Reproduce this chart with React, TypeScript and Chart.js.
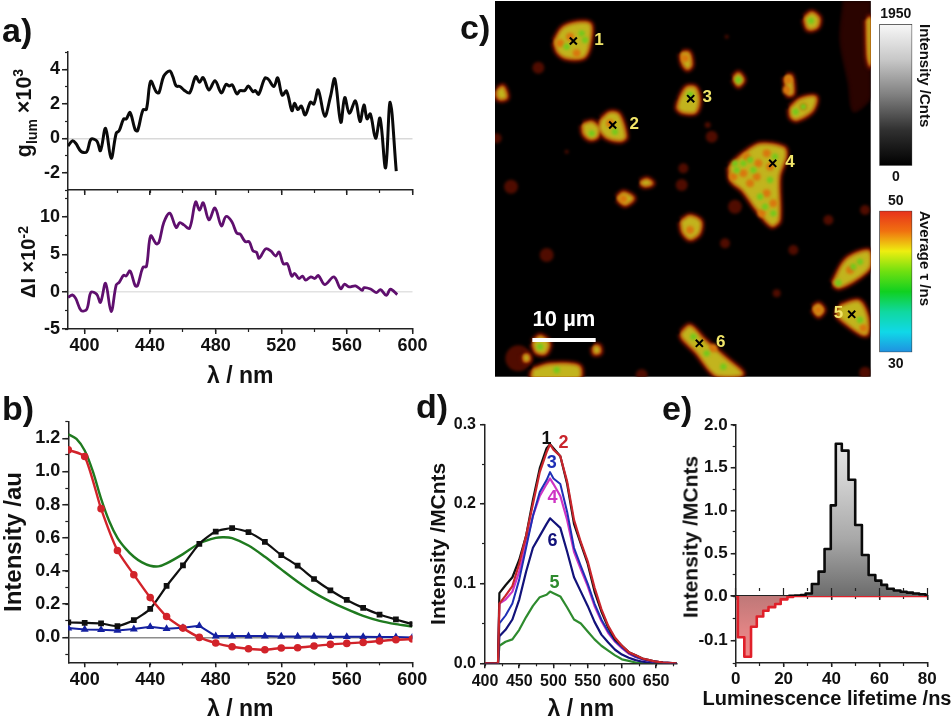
import { useEffect, useRef } from "react";
import { Chart, registerables } from "chart.js";

Chart.register(...registerables);

const FONT = "'Liberation Sans', Arial, sans-serif";
const AXIS = "#222222";
const PAGE_W = 952;
const PAGE_H = 722;
// the map canvases start above the page so bubble overflow cannot push the plot down
const MAP_LIFT = 20;

// panel a) upper trace
const glumNm = [390, 392.7, 394.7, 398, 401.4, 404, 407.5, 409.8, 412.9, 416.3, 419.4, 421.2, 423.9, 425.5, 427.8, 431, 432.4, 435.7, 437.8, 440.4, 443.9, 445.5, 448.4, 452, 453.9, 455.9, 458.2, 460.6, 464.1, 467.8, 470.2, 472.4, 475.9, 479.6, 483.5, 486.3, 488.2, 490.2, 492.9, 494.9, 497.7, 499.9, 502.8, 504.2, 506.2, 510, 512.1, 515.5, 517.8, 520.6, 523.2, 526.5, 528.1, 530.1, 532.2, 534.6, 537.8, 539.9, 542.5, 546.5, 550, 552.6, 556.3, 558.7, 561.5, 565.2, 568, 570.4, 572.3, 574.3, 577.5, 580.2, 583.6, 586.4, 590.1];
const glumVal = [-0.45, -0.15, -0.29, -0.77, -0.79, -0.06, -0.15, -0.72, 0.58, -1.16, 0.29, 0.44, 1.12, 1.12, 1.49, 0.48, 0.43, 1.64, 1.68, 3.3, 2.67, 2.65, 3.61, 3.9, 3.57, 3.03, 3.0, 2.8, 2.63, 3.57, 3.25, 3.52, 2.8, 3.34, 2.63, 3.13, 3.03, 3.09, 2.57, 2.76, 2.76, 3.03, 2.7, 2.76, 2.55, 3.48, 3.42, 3.0, 3.5, 2.5, 2.74, 1.6, 2.03, 1.66, 1.87, 1.35, 2.09, 1.99, 2.8, 1.28, 2.42, 3.44, 0.93, 2.36, 1.45, 2.16, 0.97, 1.93, 1.12, 1.41, 0, 1.16, -1.72, 2.09, -1.9];
const glumTicks = [-2, 0, 2, 4];

// panel a) lower trace
const deltaNm = [390, 392.7, 394.7, 398, 401.4, 404, 407.5, 409.8, 412.9, 416.3, 419.4, 421.2, 423.9, 425.5, 427.8, 431, 432.4, 435.7, 437.8, 440.4, 443.9, 445.5, 448.4, 452, 455.9, 458.2, 460.6, 464.1, 467.8, 470.2, 472.4, 475.9, 479.6, 483.5, 486.3, 489.8, 492.9, 494.9, 498, 500.4, 502.8, 504.9, 506.5, 510.5, 513.6, 516.6, 518.7, 521.3, 523.7, 526.4, 528.2, 530.8, 532.9, 534.9, 538, 540.4, 542.6, 546.5, 552.1, 556.2, 558.6, 561.3, 565.3, 569.4, 570.4, 574.4, 577.9, 580.5, 584, 586.6, 590.7];
const deltaVal = [-0.76, -0.45, -0.9, -2.54, -2.37, -0.09, -0.36, -1.43, 1.12, -2.68, 0.9, 1.25, 2.19, 2.1, 2.77, 0.76, 0.8, 3.26, 3.35, 7.46, 6.38, 6.65, 9.24, 10.5, 8.6, 9.24, 8.93, 8.48, 12, 10.9, 11.9, 9.6, 11.2, 8.8, 10.05, 9.38, 7.8, 7.7, 6.7, 6.7, 5.45, 5.27, 4.46, 5.72, 5.45, 4.77, 5.3, 3.7, 3.74, 2.07, 2.43, 1.76, 2.07, 1.53, 1.98, 1.76, 2.16, 0.95, 1.98, 0.4, 1.0, 0.63, 0.77, 0.18, 0.54, 0.36, -0.14, 0.27, -0.5, 0.32, -0.4];

// panel b)
const absNm = [390, 400, 410, 420, 430, 440, 450, 460, 470, 480, 490, 500, 510, 520, 530, 540, 550, 560, 570, 580, 590, 600];
const absBlack = [0.09, 0.088, 0.084, 0.068, 0.104, 0.172, 0.31, 0.434, 0.564, 0.638, 0.658, 0.634, 0.576, 0.496, 0.432, 0.352, 0.284, 0.226, 0.178, 0.138, 0.108, 0.08];
const absRed = [1.13, 1.09, 0.776, 0.524, 0.378, 0.24, 0.126, 0.056, 0, -0.034, -0.056, -0.068, -0.074, -0.064, -0.062, -0.052, -0.042, -0.036, -0.03, -0.022, -0.014, -0.01];
const absBlue = [0.056, 0.048, 0.046, 0.042, 0.05, 0.064, 0.052, 0.058, 0.07, 0.008, 0.008, 0.008, 0.008, 0.006, 0.006, 0.006, 0.004, 0.004, 0.004, 0.002, 0.002, 0];
const greenNm = [390, 395, 400, 405, 410, 415, 420, 425, 430, 435, 440, 445, 450, 460, 470, 480, 485, 490, 500, 510, 520, 530, 540, 550, 560, 570, 580, 590, 600];
const greenVal = [1.224, 1.196, 1.126, 1.0, 0.836, 0.7, 0.6, 0.535, 0.486, 0.452, 0.432, 0.428, 0.446, 0.502, 0.566, 0.6, 0.604, 0.598, 0.554, 0.486, 0.41, 0.336, 0.27, 0.216, 0.17, 0.13, 0.1, 0.08, 0.066];

// panel d)
const pointNm = [400, 419, 421, 430, 440, 450, 460, 470, 480, 490, 495, 500, 510, 520, 530, 540, 550, 560, 570, 580, 590, 600, 610, 620, 630, 640, 650, 660, 680];
const spot1 = [0, 0, 0.088, 0.098, 0.108, 0.13, 0.16, 0.205, 0.245, 0.27, 0.275, 0.27, 0.26, 0.225, 0.175, 0.15, 0.125, 0.09, 0.065, 0.045, 0.03, 0.022, 0.014, 0.01, 0.006, 0.004, 0.002, 0.001, 0];
const spot2 = [0, 0, 0.075, 0.085, 0.097, 0.125, 0.16, 0.2, 0.24, 0.265, 0.275, 0.268, 0.26, 0.228, 0.18, 0.152, 0.128, 0.095, 0.068, 0.047, 0.032, 0.022, 0.014, 0.01, 0.006, 0.004, 0.002, 0.001, 0];
const spot3 = [0, 0, 0.05, 0.06, 0.075, 0.105, 0.145, 0.185, 0.215, 0.23, 0.24, 0.232, 0.225, 0.19, 0.145, 0.122, 0.1, 0.075, 0.055, 0.04, 0.028, 0.02, 0.013, 0.008, 0.005, 0.003, 0.002, 0.001, 0];
const spot4 = [0, 0, 0.075, 0.08, 0.09, 0.115, 0.15, 0.185, 0.21, 0.225, 0.232, 0.225, 0.21, 0.18, 0.14, 0.118, 0.097, 0.072, 0.053, 0.038, 0.027, 0.019, 0.012, 0.008, 0.005, 0.003, 0.002, 0.001, 0];
const spot5 = [0, 0, 0.022, 0.027, 0.03, 0.042, 0.058, 0.072, 0.083, 0.086, 0.09, 0.088, 0.084, 0.07, 0.055, 0.05, 0.04, 0.03, 0.022, 0.016, 0.01, 0.005, 0.003, 0.001, 0, 0, 0, 0, 0];
const spot6 = [0, 0, 0.034, 0.042, 0.055, 0.08, 0.115, 0.145, 0.16, 0.175, 0.182, 0.178, 0.17, 0.14, 0.108, 0.09, 0.072, 0.052, 0.036, 0.026, 0.017, 0.011, 0.007, 0.004, 0.002, 0.001, 0, 0, 0];
const spotLabels = ["1", "2", "3", "4", "5", "6"];
const spotLabelNm = [490, 514.6, 497.6, 498.5, 501.5, 498.5];
const spotLabelVal = [0.282, 0.277, 0.251, 0.207, 0.101, 0.154];
const spotColors = ["#111111", "#c9252c", "#1f2fb5", "#cf35c4", "#2e8b2e", "#12127a"];

// panel e) histograms: bin edge and height of the bin that starts there
const posEdges = [22, 24.6, 27.2, 29.2, 31.8, 34.6, 37.1, 39.7, 41.8, 44.3, 47.1, 49.9, 52.7, 55.5, 58.3, 60.8, 63.2, 66, 68.8, 71.4, 74, 76.6, 79.2, 80];
const posCounts = [0.002, 0.005, 0.01, 0.03, 0.14, 0.285, 0.55, 1.06, 1.78, 1.7, 1.36, 0.83, 0.48, 0.245, 0.18, 0.13, 0.085, 0.065, 0.05, 0.04, 0.03, 0.02, 0.012, 0.005];
const negEdges = [0, 0.9, 3.6, 6.4, 8.8, 11.5, 13.7, 16.5, 18.8, 21.6, 24, 80];
const negCounts = [0, -0.0925, -0.136, -0.069, -0.046, -0.033, -0.025, -0.018, -0.0075, -0.002, 0, 0];

// panel c) map, in map pixels
const particle1 = [[315, 125], [340, 85], [385, 70], [420, 75], [415, 140], [400, 170], [350, 172], [325, 155]];
const particle2a = [[400, 375], [425, 368], [445, 385], [440, 410], [420, 415], [403, 400]];
const particle2b = [[455, 360], [480, 340], [505, 345], [525, 410], [510, 420], [470, 410], [450, 385]];
const particle3 = [[690, 300], [710, 265], [735, 265], [745, 300], [735, 335], [700, 335], [685, 325]];
const particle4 = [[840, 500], [880, 465], [930, 435], [1000, 445], [1005, 470], [985, 530], [985, 660], [965, 675], [920, 625], [880, 570], [845, 540]];
const particle5 = [[1170, 920], [1225, 905], [1250, 950], [1250, 1000], [1235, 1000], [1185, 965], [1165, 945]];
const particle6 = [[695, 1000], [720, 980], [760, 1020], [830, 1080], [875, 1122], [800, 1125], [740, 1055], [700, 1015]];
const grainTop = [[1065, 55], [1085, 40], [1105, 55], [1100, 80], [1075, 85]];
const grainFlat = [[1022, 325], [1050, 300], [1095, 293], [1085, 330], [1040, 357], [1025, 350]];
const grainLong = [[1150, 850], [1190, 780], [1255, 755], [1258, 800], [1210, 840], [1165, 860]];
const grainFoot = [[250, 1110], [300, 1095], [385, 1100], [385, 1135], [250, 1135]];
const grainLeft = [[250, 1030], [270, 1010], [295, 1030], [285, 1058], [260, 1055]];
const grainMid = [[695, 665], [720, 650], [750, 665], [745, 700], [720, 715], [700, 695]];
const grainA = [[503, 595], [520, 580], [548, 595], [525, 612]];
const grainB = [[572, 548], [590, 540], [605, 550], [585, 556]];
const grainC = [[1090, 925], [1105, 915], [1118, 930], [1105, 945]];
const grainD = [[852, 235], [865, 222], [878, 240], [865, 255]];
const grainE = [[695, 160], [715, 160], [722, 195], [712, 205], [700, 190]];
const grainF = [[1008, 230], [1022, 230], [1027, 280], [1015, 282]];
const grainG = [[143, 272], [158, 262], [168, 292], [150, 296], [143, 288]];
const grainH = [[1252, 60], [1262, 55], [1262, 195], [1255, 170]];
const grainI = [[432, 1040], [445, 1040], [448, 1056], [434, 1058]];
const grainJ = [[222, 1066], [234, 1066], [236, 1080], [224, 1082]];
const grains = [particle1, particle2a, particle2b, particle3, particle4, particle5, particle6, grainTop, grainFlat, grainLong, grainFoot, grainLeft, grainMid, grainA, grainB, grainC, grainD, grainE, grainF, grainG, grainH, grainI, grainJ];
const cornerGlow = [[1180, 3], [1262, 3], [1262, 290], [1210, 335], [1195, 250], [1170, 120]];

const dimX = [265, 183, 700, 695, 785, 773, 855, 290, 825, 1030, 980, 1135, 1245, 140, 350, 830, 575, 1245, 205];
const dimY = [203, 560, 505, 555, 410, 375, 620, 765, 730, 750, 880, 660, 630, 415, 455, 110, 1125, 1118, 1075];
const dimR = [6, 7, 5, 6, 6, 3, 7, 7, 5, 5, 4, 5, 5, 5, 2, 2, 6, 6, 13];

const greenX = [880, 960, 975, 860, 930, 945, 900, 425, 495, 395, 350, 720, 1037, 820, 770, 730, 1230, 1165, 1083, 865, 270, 320, 1230, 405, 1060, 1210, 855, 910, 970];
const greenY = [490, 540, 470, 510, 590, 620, 480, 400, 395, 100, 140, 285, 335, 1100, 1060, 1010, 785, 848, 62, 240, 1040, 1110, 960, 120, 320, 800, 490, 510, 640];
const orangeX = [920, 960, 900, 950, 950, 935, 880, 360, 380, 480, 705, 1015, 1010, 720, 1105, 520, 1060, 1200, 890, 925, 970, 850, 330, 790, 1240];
const orangeY = [530, 500, 550, 460, 580, 640, 520, 110, 160, 370, 175, 240, 270, 690, 930, 597, 320, 810, 470, 490, 610, 530, 130, 1045, 985];

const crossX = [370, 488, 722, 968, 1205, 748];
const crossY = [123, 375, 296, 490, 943, 1030];
const grainNames = ["1", "2", "3", "4", "5", "6"];
const grainNameX = [447, 553, 772, 1020, 1165, 812];
const grainNameY = [122, 372, 293, 488, 940, 1027];
const barX = [247, 437];
const barY = [1020, 1020];

// colour bars
const intensityRange = [0, 1950];
const intensityStops = ["#f8f8f8", "#c8c8c8", "#808080", "#303030", "#000000"];
const lifetimeRange = [30, 50];
const lifetimeStops = ["#e8301c", "#f07010", "#eeee10", "#70e010", "#10d020", "#10d8a0", "#10d8e8", "#2090e0"];

const zip = (xs: number[], ys: number[]) => xs.map((x, i) => ({ x, y: ys[i] }));
const outline = (poly: number[][]) => [...poly, poly[0]].map(([x, y]) => ({ x, y }));

const fitSize = (size: number) => (s: any) => {
  if (s.isHorizontal()) s.height = size;
  else s.width = size;
  s.paddingLeft = s.paddingRight = s.paddingTop = s.paddingBottom = 0;
};

function titleOf(text: string, size: number) {
  return { display: true, text, color: "#111", padding: 0, font: { family: FONT, weight: "bold" as const, size, lineHeight: 1.2 } };
}

// axis with labels; the plot edge stays where layout padding puts it
function mainAxis(position: string, min: number, max: number, step: number, size: number, o: any = {}) {
  return {
    type: "linear",
    position,
    min,
    max,
    weight: 0,
    afterFit: fitSize(size),
    afterBuildTicks: o.at
      ? (s: any) => {
          s.ticks = o.at.map((value: number) => ({ value }));
        }
      : undefined,
    border: { display: true, color: AXIS, width: 1.5 },
    grid: {
      drawOnChartArea: !!o.zero,
      color: (c: any) => (o.zero && Math.abs(c.tick.value) < 1e-9 ? o.zero : "transparent"),
      lineWidth: 1.5,
      tickColor: AXIS,
      tickWidth: 1.5,
      tickLength: o.tick ?? 5,
    },
    ticks: {
      display: o.labels !== false,
      stepSize: step,
      includeBounds: false,
      autoSkip: false,
      maxRotation: 0,
      minRotation: 0,
      padding: o.pad ?? 2,
      color: "#111",
      font: { family: FONT, weight: "bold" as const, size: o.font ?? 17 },
      callback: o.format ?? ((v: number) => String(v)),
    },
    title: o.title ?? { display: false },
  };
}

// same range, shorter ticks, no labels
function minorAxis(axis: string, position: string, min: number, max: number, step: number, tick = 3) {
  return {
    type: "linear",
    axis,
    position,
    min,
    max,
    weight: -1,
    afterFit: fitSize(0),
    border: { display: false },
    grid: { drawOnChartArea: false, tickColor: AXIS, tickWidth: 1.2, tickLength: tick },
    ticks: { display: false, stepSize: step, includeBounds: false },
  };
}

type TextItem = { x?: number; y: number; dy?: number; text: string; color: string; size: number };

// writes text at data coordinates
function textPlugin(items: TextItem[]) {
  return {
    id: "markText",
    afterDatasetsDraw(chart: any) {
      const { ctx, chartArea, scales } = chart;
      ctx.save();
      ctx.textAlign = "center";
      ctx.textBaseline = "middle";
      items.forEach((it) => {
        const px = it.x === undefined ? (chartArea.left + chartArea.right) / 2 : scales.x.getPixelForValue(it.x);
        ctx.font = `bold ${it.size}px ${FONT}`;
        ctx.fillStyle = it.color;
        ctx.fillText(it.text, px, scales.y.getPixelForValue(it.y) + (it.dy ?? 0));
      });
      ctx.restore();
    },
  };
}

const blackBackground = {
  id: "blackBackground",
  beforeDraw(chart: any) {
    const { ctx, chartArea: a } = chart;
    ctx.save();
    ctx.fillStyle = "#000";
    ctx.fillRect(a.left, a.top, a.right - a.left, a.bottom - a.top);
    ctx.restore();
  },
};

const softEdges = {
  id: "softEdges",
  beforeDatasetsDraw(chart: any) {
    chart.ctx.filter = "blur(1.6px)";
  },
  afterDatasetsDraw(chart: any) {
    chart.ctx.filter = "none";
  },
};

function verticalGradient(stops: string[]) {
  return (c: any) => {
    const a = c.chart.chartArea;
    if (!a) return stops[0];
    const g = c.chart.ctx.createLinearGradient(0, a.top, 0, a.bottom);
    stops.forEach((s, i) => g.addColorStop(i / (stops.length - 1), s));
    return g;
  };
}

function baseOptions(pad: { left: number; top: number; right: number; bottom: number }, scales: any) {
  return {
    animation: false,
    responsive: false,
    maintainAspectRatio: false,
    events: [],
    layout: { padding: pad },
    plugins: { legend: { display: false }, tooltip: { enabled: false } },
    scales,
  };
}

const wave = (data: any[], color: string, width = 2.2, tension = 0.35, extra: any = {}) => ({
  type: "scatter",
  data,
  showLine: true,
  borderColor: color,
  backgroundColor: color,
  borderWidth: width,
  borderJoinStyle: "round",
  tension,
  pointRadius: 0,
  ...extra,
});

const num1 = (v: number) => v.toFixed(1);

const mapScales = () => ({
  x: { type: "linear", display: false, min: 135, max: 1262, ticks: { display: false } },
  y: { type: "linear", display: false, reverse: true, min: 3, max: 1130, ticks: { display: false } },
});
const mapPadding = { left: 495, top: 1 + MAP_LIFT, right: PAGE_W - 870.7, bottom: PAGE_H - 376.7 - MAP_LIFT };

const glumConfig = () => ({
  type: "scatter",
  data: { datasets: [wave(zip(glumNm, glumVal), "#0a0a0a", 3)] },
  options: baseOptions(
    { left: 0, top: 52, right: PAGE_W - 412.5, bottom: PAGE_H - 190 - 5 },
    {
      x: mainAxis("bottom", 390, 600, 40, 5, { labels: false }),
      xm: minorAxis("x", "bottom", 390, 600, 20),
      y: mainAxis("left", -3, 5, 2, 68, { zero: "#d9d9d9", tick: 6, font: 18, at: glumTicks }),
      ym: minorAxis("y", "left", -3, 5, 1),
    }
  ),
});

const deltaConfig = () => ({
  type: "scatter",
  data: { datasets: [wave(zip(deltaNm, deltaVal), "#5f0f6e", 2.8)] },
  options: baseOptions(
    { left: 0, top: 190, right: PAGE_W - 412.5, bottom: PAGE_H - 329 - 61 },
    {
      x: mainAxis("bottom", 390, 600, 40, 61, { font: 18, pad: 1, tick: 5, title: titleOf("λ / nm", 23) }),
      xm: minorAxis("x", "bottom", 390, 600, 20),
      y: mainAxis("left", -5, 13.6, 5, 68, { zero: "#e2e2e2", tick: 6, font: 18 }),
      ym: minorAxis("y", "left", -5, 13.6, 2.5),
    }
  ),
});

const absorptionConfig = () => ({
  type: "scatter",
  data: {
    datasets: [
      wave(zip(absNm, absRed), "#d2232a", 2.4, 0.2, { pointRadius: 2.6, pointStyle: "circle" }),
      wave(zip(absNm, absBlack), "#101010", 2.2, 0.2, { pointRadius: 2.5, pointStyle: "rect" }),
      wave(zip(absNm, absBlue), "#1420a0", 2, 0, { pointRadius: 2.6, pointStyle: "triangle" }),
      wave(zip(greenNm, greenVal), "#1f7a1f", 2.4, 0.3),
    ],
  },
  options: baseOptions(
    { left: 0, top: 421.7, right: PAGE_W - 412.3, bottom: PAGE_H - 662.3 - 61.5 },
    {
      x: mainAxis("bottom", 390, 600, 40, 61.5, { font: 18, pad: 2, title: titleOf("λ / nm", 23) }),
      xm: minorAxis("x", "bottom", 390, 600, 20),
      y: mainAxis("left", -0.15, 1.3, 0.2, 68.3, { zero: "#8c8c8c", format: num1, font: 18, tick: 6, title: titleOf("Intensity /au", 24) }),
      ym: minorAxis("y", "left", -0.15, 1.3, 0.1),
    }
  ),
});

const mapConfig = () => {
  const layer = (color: string, width: number, order: number) =>
    grains.map((g) => wave(outline(g), color, width, 0.3, { backgroundColor: color, fill: "shape", order }));
  return {
    type: "scatter",
    data: {
      datasets: [
        wave(outline(cornerGlow), "#2a0400", 1, 0.3, { backgroundColor: "#2a0400", fill: "shape", order: 90 }),
        {
          type: "bubble",
          data: dimX.map((x, i) => ({ x, y: dimY[i], r: dimR[i] })),
          backgroundColor: "#500c00",
          borderWidth: 0,
          order: 70,
        },
        ...layer("#5c0e00", 9, 60),
        ...layer("#bc3a08", 3.5, 50),
        ...layer("#c2b41e", 1, 40),
        { type: "scatter", data: zip(orangeX, orangeY), pointRadius: 4, backgroundColor: "#d8780e", borderWidth: 0, order: 30 },
        { type: "scatter", data: zip(greenX, greenY), pointRadius: 3.2, backgroundColor: "#74c81c", borderWidth: 0, order: 20 },
      ],
    },
    options: baseOptions(mapPadding, mapScales()),
  };
};

const mapMarksConfig = () => ({
  type: "scatter",
  data: {
    datasets: [
      wave(zip(barX, barY), "#ffffff", 4, 0),
      {
        type: "scatter",
        data: zip(crossX, crossY),
        pointStyle: "crossRot",
        pointRadius: 5,
        pointBorderWidth: 2,
        pointBorderColor: "#000",
      },
    ],
  },
  options: baseOptions(mapPadding, mapScales()),
});

const mapMarksPlugin = () =>
  textPlugin([
    ...grainNames.map((text, i) => ({ x: grainNameX[i], y: grainNameY[i], text, color: "#f2e66a", size: 17 })),
    { x: 342, y: 960, text: "10 µm", color: "#ffffff", size: 22 },
  ]);

const colourBarConfig = (range: number[], stops: string[]) => ({
  type: "bar",
  data: {
    labels: [""],
    datasets: [
      {
        data: [[range[0], range[1]]],
        backgroundColor: verticalGradient(stops),
        borderColor: "#333",
        borderWidth: 1,
        borderSkipped: false,
        barPercentage: 1,
        categoryPercentage: 1,
      },
    ],
  },
});

const colourBarOptions = (range: number[], top: number, bottom: number, title: string) =>
  baseOptions(
    { left: 879.3, top, right: PAGE_W - 912.3 - 21, bottom: PAGE_H - bottom },
    {
      x: { type: "category", display: false, ticks: { display: false } },
      y: {
        type: "linear",
        position: "right",
        min: range[0],
        max: range[1],
        afterFit: fitSize(21),
        border: { display: false },
        grid: { display: false },
        ticks: { display: false },
        title: { ...titleOf(title, 15), align: "end" },
      },
    }
  );

const spectraConfig = () => ({
  type: "scatter",
  data: {
    datasets: [
      wave(zip(pointNm, spot2), "#c9252c", 2.2, 0),
      wave(zip(pointNm, spot1), "#111111", 2.2, 0),
      wave(zip(pointNm, spot3), "#1f2fb5", 2, 0),
      wave(zip(pointNm, spot4), "#cf35c4", 2.2, 0),
      wave(zip(pointNm, spot6), "#12127a", 2.2, 0),
      wave(zip(pointNm, spot5), "#2e8b2e", 2.2, 0),
    ],
  },
  options: baseOptions(
    { left: 485 - 58, top: 424.3, right: PAGE_W - 676.7, bottom: PAGE_H - 663.3 - 60 },
    {
      x: mainAxis("bottom", 400, 680, 50, 60, { font: 16, pad: 4, title: titleOf("λ / nm", 23) }),
      xm: minorAxis("x", "bottom", 400, 680, 25),
      y: mainAxis("left", 0, 0.3, 0.1, 58, { format: num1, font: 16, pad: 4, title: titleOf("Intensity /MCnts", 21) }),
      ym: minorAxis("y", "left", 0, 0.3, 0.05),
    }
  ),
});

const spectraLabels = () =>
  textPlugin(spotLabels.map((text, i) => ({ x: spotLabelNm[i], y: spotLabelVal[i], text, color: spotColors[i], size: 18 })));

const upperHistConfig = () => ({
  type: "scatter",
  data: {
    datasets: [
      wave(zip(posEdges, posCounts), "#0a0a0a", 2.6, 0, {
        stepped: "before",
        fill: "origin",
        backgroundColor: verticalGradient(["#f0f0f0", "#d0d0d0", "#a8a8a8", "#6c6c6c"]),
      }),
    ],
  },
  options: baseOptions(
    { left: 735.7 - 40, top: 425, right: PAGE_W - 927.3, bottom: PAGE_H - 596 - 5 },
    {
      x: mainAxis("bottom", 0, 80, 20, 5, { labels: false, tick: 4 }),
      xm: minorAxis("x", "bottom", 0, 80, 10),
      y: mainAxis("left", 0, 2, 0.5, 40, { format: num1, font: 17, pad: 3 }),
      ym: minorAxis("y", "left", 0, 2, 0.25),
    }
  ),
});

const lowerHistConfig = () => ({
  type: "scatter",
  data: {
    datasets: [
      wave(zip(negEdges, negCounts), "#e0202a", 2.6, 0, {
        stepped: "before",
        fill: "origin",
        backgroundColor: verticalGradient(["#bf7878", "#e08484", "#f58686"]),
      }),
    ],
  },
  options: baseOptions(
    { left: 735.7 - 40, top: 596 - 5, right: PAGE_W - 927.3, bottom: PAGE_H - 663 - 25 },
    {
      x: mainAxis("bottom", 0, 80, 20, 25, { font: 17, pad: 2, tick: 4 }),
      xt: { ...minorAxis("x", "top", 0, 80, 20, 5), afterFit: fitSize(5) },
      xtm: minorAxis("x", "top", 0, 80, 10, 3),
      xm: minorAxis("x", "bottom", 0, 80, 10),
      y: mainAxis("left", -0.15, 0, 0.1, 40, { format: (v: number) => (v === 0 ? "" : v.toFixed(1)), font: 17, pad: 3 }),
      ym: minorAxis("y", "left", -0.15, 0, 0.05),
    }
  ),
});

function Panel({ make, plugins = [], lift = 0 }: { make: () => any; plugins?: any[]; lift?: number }) {
  const canvasRef = useRef<HTMLCanvasElement>(null);

  useEffect(() => {
    if (!canvasRef.current) return;
    const chart = new Chart(canvasRef.current, { ...make(), plugins });
    return () => chart.destroy();
  }, []);

  return <canvas ref={canvasRef} width={PAGE_W} height={PAGE_H} style={{ position: "absolute", left: 0, top: -lift }} />;
}

const letter = (left: number, top: number): any => ({
  position: "absolute",
  left,
  top,
  font: `bold 34px/1 ${FONT}`,
  color: "#111",
});

const sideTitle = (x: number, y: number, size: number): any => ({
  position: "absolute",
  left: x,
  top: y,
  transform: "translate(-50%,-50%) rotate(-90deg)",
  font: `bold ${size}px/1 ${FONT}`,
  color: "#111",
  whiteSpace: "nowrap",
});

export default function App() {
  return (
    <div style={{ position: "absolute", left: 0, top: 0, width: PAGE_W, height: PAGE_H, background: "#fff", overflow: "hidden" }}>
      <Panel make={glumConfig} />
      <Panel make={deltaConfig} />
      <Panel make={absorptionConfig} />
      <Panel make={mapConfig} plugins={[blackBackground, softEdges]} lift={MAP_LIFT} />
      <Panel make={mapMarksConfig} plugins={[mapMarksPlugin()]} lift={MAP_LIFT} />
      <Panel
        make={() => ({ ...colourBarConfig(intensityRange, intensityStops), options: colourBarOptions(intensityRange, 24, 165.7, "Intensity /Cnts") })}
        plugins={[
          textPlugin([
            { y: intensityRange[1], dy: -10, text: "1950", color: "#111", size: 14 },
            { y: intensityRange[0], dy: 11, text: "0", color: "#111", size: 14 },
          ]),
        ]}
      />
      <Panel
        make={() => ({ ...colourBarConfig(lifetimeRange, lifetimeStops), options: colourBarOptions(lifetimeRange, 210.7, 352.3, "Average τ /ns") })}
        plugins={[
          textPlugin([
            { y: lifetimeRange[1], dy: -10, text: "50", color: "#111", size: 14 },
            { y: lifetimeRange[0], dy: 12, text: "30", color: "#111", size: 14 },
          ]),
        ]}
      />
      <Panel make={spectraConfig} plugins={[spectraLabels()]} />
      <Panel make={upperHistConfig} />
      <Panel make={lowerHistConfig} />

      <div style={letter(2, 13)}>a)</div>
      <div style={letter(2, 391)}>b)</div>
      <div style={letter(460, 10)}>c)</div>
      <div style={letter(416, 389)}>d)</div>
      <div style={letter(662, 391)}>e)</div>

      <div style={sideTitle(25, 113, 21.5)}>
        g<sub style={{ fontSize: 14 }}>lum</sub> ×10<sup style={{ fontSize: 14 }}>3</sup>
      </div>
      <div style={sideTitle(27, 262, 20)}>
        ΔI ×10<sup style={{ fontSize: 14 }}>-2</sup>
      </div>
      <div style={sideTitle(690, 537, 21)}>Intensity /MCnts</div>
      <div
        style={{
          position: "absolute",
          left: 827,
          top: 698,
          transform: "translate(-50%,-50%)",
          font: `bold 20px/1 ${FONT}`,
          color: "#111",
          whiteSpace: "nowrap",
        }}
      >
        Luminescence lifetime /ns
      </div>
    </div>
  );
}
